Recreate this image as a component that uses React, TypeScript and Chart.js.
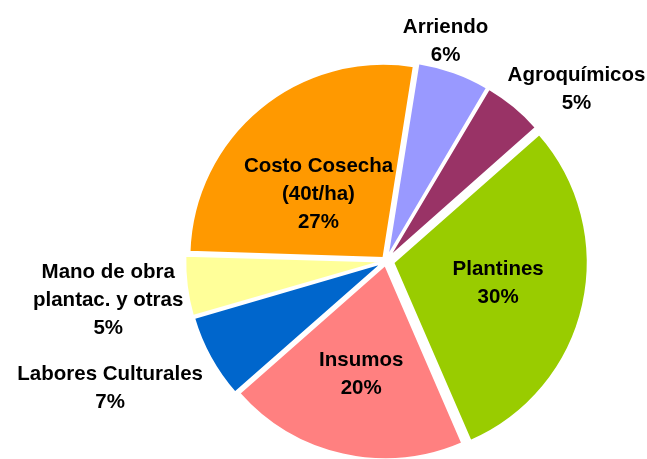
import React, { useEffect, useRef } from "react";
import { Chart, registerables } from "chart.js";

Chart.register(...registerables);

const categories: string[][] = [
  ["Arriendo"],
  ["Agroquímicos"],
  ["Plantines"],
  ["Insumos"],
  ["Labores Culturales"],
  ["Mano de obra", "plantac. y otras"],
  ["Costo Cosecha", "(40t/ha)"],
];
const percentages: number[] = [6, 5, 30, 20, 7, 5, 27];
const colors: string[] = ["#9999FF", "#993366", "#99CC00", "#FF8080", "#0066CC", "#FFFF99", "#FF9900"];
const offsets: number[] = [16, 16, 30, 16, 16, 16, 16];
// label block centre, as a fraction of the pie radius from the pie centre
const labelFx: number[] = [0.307, 0.982, 0.578, -0.128, -1.422, -1.432, -0.348];
const labelFy: number[] = [-1.143, -0.895, 0.107, 0.573, 0.65, 0.192, -0.353];

const FONT_SIZE = 20.5;
const LINE_H = 28;

const labelPlugin = {
  id: "pieLabels",
  afterDatasetsDraw(chart: any) {
    const meta = chart.getDatasetMeta(0);
    const a0 = meta.data[0];
    if (!a0) return;
    const cx = a0.x;
    const cy = a0.y;
    const r = a0.outerRadius;
    const ctx = chart.ctx;
    ctx.save();
    ctx.fillStyle = "#000";
    ctx.font = `bold ${FONT_SIZE}px "Liberation Sans", Arial, sans-serif`;
    ctx.textAlign = "center";
    ctx.textBaseline = "alphabetic";
    const capHalf = FONT_SIZE * 0.716 / 2;
    categories.forEach((lines, i) => {
      const all = [...lines, `${percentages[i]}%`];
      const x = cx + labelFx[i] * r;
      const y = cy + labelFy[i] * r;
      const top = y - ((all.length - 1) * LINE_H) / 2;
      all.forEach((t, j) => {
        ctx.fillText(t, x, top + j * LINE_H + capHalf);
      });
    });
    ctx.restore();
  },
};

export default function App() {
  const ref = useRef<HTMLCanvasElement | null>(null);
  useEffect(() => {
    if (!ref.current) return;
    const chart = new Chart(ref.current, {
      type: "pie",
      data: {
        labels: categories.map((c) => c.join(" ")),
        datasets: [
          {
            data: percentages,
            backgroundColor: colors,
            borderColor: "#FFFFFF",
            borderWidth: 2,
            offset: offsets,
            clip: false,
          } as any,
        ],
      },
      options: {
        animation: false,
        responsive: false,
        maintainAspectRatio: false,
        rotation: 9,
        radius: 194,
        layout: { padding: { left: 125, right: 0, top: 63, bottom: 0 } },
        plugins: {
          legend: { display: false },
          tooltip: { enabled: false },
        },
      } as any,
      plugins: [labelPlugin],
    });
    return () => chart.destroy();
  }, []);
  return (
    <div style={{ position: "fixed", left: 0, top: 0, width: 647, height: 459, overflow: "hidden", background: "#fff" }}>
      <canvas ref={ref} width={647} height={459} style={{ width: 647, height: 459, display: "block" }} />
    </div>
  );
}
